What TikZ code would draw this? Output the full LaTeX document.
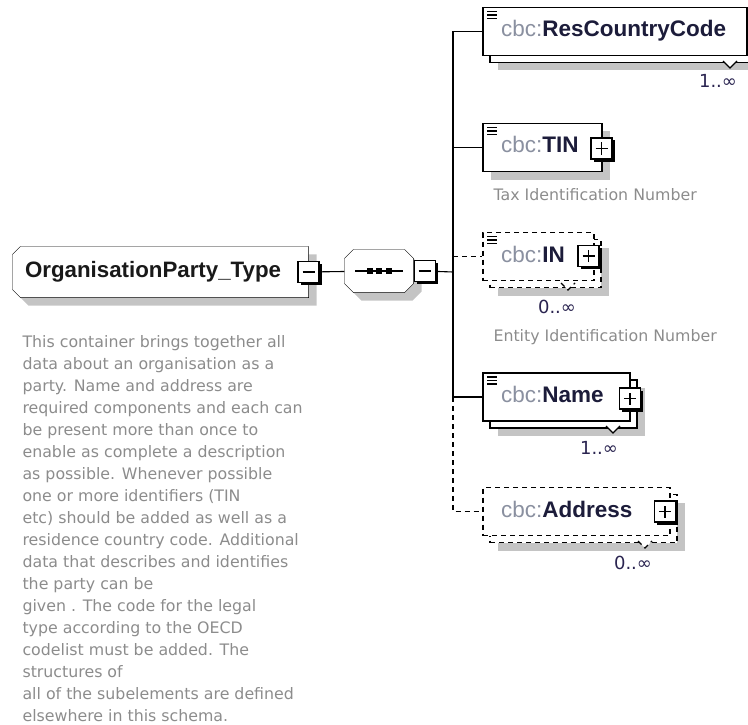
\documentclass[tikz,border=0pt]{standalone}
\usepackage{fontspec}
\setmainfont{Liberation Sans}
\newfontfamily\descfont{DejaVu Sans}
\usetikzlibrary{shadows,backgrounds}
\definecolor{shgray}{HTML}{C4C4C4}
\definecolor{nsgray}{HTML}{8A90A0}
\definecolor{namecol}{HTML}{1C1C3A}
\definecolor{desccol}{HTML}{8C8C8C}
\definecolor{multcol}{HTML}{2A2450}
\newcommand{\cbc}[1]{{\color{nsgray}cbc:}{\color{namecol}\bfseries #1}}

\begin{document}
\begin{tikzpicture}[x=1pt,y=-1pt,line width=1.1pt]
      \useasboundingbox (0,0) rectangle (748,725);
      \tikzset{Sh/.style = {drop shadow={shadow xshift=8pt, shadow yshift=-8pt, fill=shgray, opacity=1}}}
      \tikzset{T/.style = {minimum width=295pt, minimum height=50pt, inner xsep=12pt, text width=271pt,
          align=left, text=black!90, font=\fontsize{22.3}{24}\selectfont\bfseries}}
      \tikzset{S/.style = {minimum width=68pt, minimum height=42pt, inner sep=0pt}}
      \tikzset{B/.style = {draw, fill=white, solid, minimum size=21pt, inner sep=0pt,
          general shadow={shadow xshift=2.5pt, shadow yshift=-2.5pt, fill=black}}}
      \tikzset{Bm/.style = {B, path picture={\draw ([xshift=-6pt]path picture bounding box.center)
          -- ([xshift=6pt]path picture bounding box.center);}}}
      \tikzset{Bp/.style = {B, path picture={\draw ([xshift=-6pt]path picture bounding box.center)
          -- ([xshift=6pt]path picture bounding box.center);
          \draw ([yshift=-6pt]path picture bounding box.center)
          -- ([yshift=6pt]path picture bounding box.center);}}}
      \tikzset{Eb/.style = {draw, fill=white, minimum height=48pt, inner xsep=18pt, inner ysep=0pt,
          text width=#1, align=left, text height=15pt, text depth=4pt,
          font=\fontsize{22.5}{24}\selectfont}}
      \tikzset{E/.style = {Eb=#1, Sh}}
      \tikzset{M/.style = {Eb=#1, drop shadow={shadow xshift=15pt, shadow yshift=-15pt, fill=shgray, opacity=1},
          copy shadow={shadow xshift=7pt, shadow yshift=-7pt, draw, fill=white}}}
      \tikzset{Ic/.style = {path picture={\foreach \dy in {4,7.5,11}
          \draw[solid,line width=1.3pt] ([xshift=4pt,yshift=-\dy pt]path picture bounding box.north west) -- ++(10,0);}}}
      \tikzset{Op/.style = {dash pattern=on 5pt off 4pt}}
      \tikzset{D/.style = {anchor=west, inner sep=0pt, text=desccol, font=\descfont\fontsize{15.8}{22}\selectfont}}
      \tikzset{Mu/.style = {inner sep=0pt, text=multcol, font=\descfont\fontsize{18}{20}\selectfont}}
      % type and sequence
      \node[T](otype) at (160.5,272) {OrganisationParty\_Type};
      \node[Bm](otbtn) at (308.5,272) {};
      \node[S](seq) at (379,271) {};
      \node[Bm,anchor=west](seqbtn) at (seq.east) {};
      \begin{scope}[on background layer]
        \draw[fill=white,Sh] ([xshift=8pt]otype.north west) -- (otype.north east) -- (otype.south east)
          -- ([xshift=8pt]otype.south west) -- ([yshift=8pt]otype.south west)
          -- ([yshift=-8pt]otype.north west) -- cycle;
        \draw[fill=white,Sh] ([xshift=9pt]seq.north west) -- ([xshift=-9pt]seq.north east)
          -- ([yshift=-9pt]seq.north east) -- ([yshift=9pt]seq.south east)
          -- ([xshift=-9pt]seq.south east) -- ([xshift=9pt]seq.south west)
          -- ([yshift=9pt]seq.south west) -- ([yshift=-9pt]seq.north west) -- cycle;
      \end{scope}
      \draw (seq.center) ++(-24,0) -- ++(48,0);
      \foreach \dx in {-9.5,0,9.5}
        \fill (seq.center) ++(\dx-3,-3) rectangle ++(6,6);
      % children
      \node[M=228pt,Ic](rcc) at (615,31.5) {\cbc{ResCountryCode}};
      \node[E=83pt,Ic](tin) at (542.5,147.5) {\cbc{TIN}};
      \node[Bp](tinbtn) at (601.5,148.5) {};
      \node[M=75pt,Ic,Op](in) at (538.5,256.5) {\cbc{IN}};
      \node[Bp](inbtn) at (588.5,256) {};
      \node[M=111pt,Ic](name) at (556.5,397) {\cbc{Name}};
      \node[Bp](namebtn) at (630,398.5) {};
      \node[M=151pt,Op](addr) at (576.5,511.5) {\cbc{Address}};
      \node[Bp](addrbtn) at (665,511.5) {};
      % occurrence marks
      \draw[fill=white] (723,61) -- (730,68) -- (737,61);
      \draw[fill=white,Op] (561,283) -- (568,290) -- (575,283);
      \draw[fill=white] (606,426) -- (613,433) -- (620,426);
      \draw[fill=white,Op] (638,541) -- (645,548) -- (652,541);
      \node[Mu](rccm) at (718,81) {1..∞};
      \node[Mu](inm) at (557,307) {0..∞};
      \node[Mu](namem) at (599,448) {1..∞};
      \node[Mu](addrm) at (633,563) {0..∞};
      \node[D](tind) at (493,195) {Tax Identification Number};
      \node[D](ind) at (493,337) {Entity Identification Number};
      \node[D,anchor=north west,align=left](otd) at (22,334.5) {This container brings together all\\
        data about an organisation as a\\ party. Name and address are\\
        required components and each can\\ be present more than once to\\
        enable as complete a description\\ as possible. Whenever possible\\
        one or more identifiers (TIN\\ etc) should be added as well as a\\
        residence country code. Additional\\ data that describes and identifies\\
        the party can be\\ given . The code for the legal\\ type according to the OECD\\
        codelist must be added. The\\ structures of\\ all of the subelements are defined\\
        elsewhere in this schema.};
      % connectors
      \coordinate (bus) at (453,272);
      \draw (otbtn) to (seq);
      \draw (seqbtn) to (bus);
      \draw (bus |- rcc.west) to (bus |- name.west);
      \draw (bus |- rcc.west) to (rcc.west);
      \draw (bus |- tin.west) to (tin.west);
      \draw[Op] (bus |- in.west) to (in.west);
      \draw (bus |- name.west) to (name.west);
      \draw[Op] (bus |- name.west) -- (bus |- addr.west) -- (addr.west);
    \end{tikzpicture}
\end{document}
